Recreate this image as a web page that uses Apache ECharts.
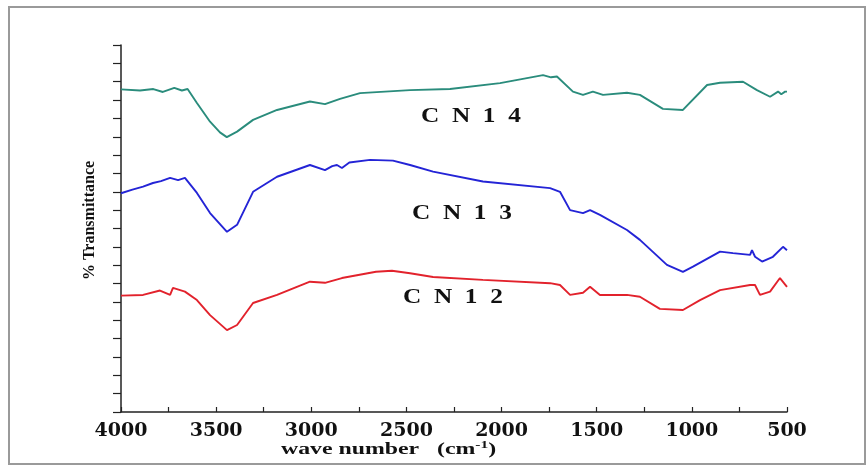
<!DOCTYPE html>
<html>
<head>
<meta charset="utf-8">
<script src="https://cdn.jsdelivr.net/npm/echarts@6/dist/echarts.min.js"></script>
<style>html,body{margin:0;padding:0;background:#fff;}#c{width:867px;height:467px;}</style>
</head>
<body>
<div id="c"></div>
<script>
// wave numbers (cm-1) and % transmittance (arbitrary offset units, 0..100)
const xTicks = [4000, 3500, 3000, 2500, 2000, 1500, 1000, 500];
const seriesNames = ['CN 14', 'CN 13', 'CN 12'];

const cn14 = [
  [4000, 87.9], [3900, 87.6], [3830, 88.0], [3780, 87.2], [3720, 88.3], [3680, 87.6], [3650, 88.0],
  [3601, 84.2], [3532, 79.1], [3480, 76.2], [3444, 74.9], [3390, 76.4], [3306, 79.6], [3180, 82.3],
  [3007, 84.6], [2928, 83.9], [2849, 85.3], [2744, 86.9], [2481, 87.7], [2271, 88.0], [2008, 89.6],
  [1782, 91.8], [1740, 91.2], [1709, 91.4], [1625, 87.3], [1572, 86.4], [1520, 87.3], [1467, 86.4],
  [1341, 87.0], [1273, 86.4], [1152, 82.6], [1047, 82.3], [920, 89.1], [852, 89.7], [731, 90.0],
  [658, 87.7], [589, 85.9], [547, 87.3], [530, 86.6], [510, 87.3], [500, 87.3]
];

const cn13 = [
  [4000, 59.6], [3940, 60.6], [3884, 61.4], [3832, 62.4], [3790, 62.9], [3742, 63.8], [3700, 63.2],
  [3664, 63.8], [3601, 59.7], [3532, 54.2], [3443, 49.1], [3390, 51.0], [3306, 60.0], [3180, 64.1],
  [3007, 67.3], [2928, 65.9], [2890, 67.0], [2865, 67.3], [2839, 66.5], [2800, 68.0], [2691, 68.7],
  [2571, 68.5], [2481, 67.3], [2360, 65.5], [2098, 62.8], [1745, 61.0], [1693, 60.0], [1640, 55.0],
  [1572, 54.2], [1535, 55.0], [1483, 53.7], [1341, 49.6], [1273, 46.9], [1131, 40.1], [1047, 38.2],
  [994, 39.6], [852, 43.7], [784, 43.3], [694, 42.8], [684, 44.1], [668, 42.3], [631, 41.0],
  [574, 42.3], [521, 45.0], [500, 44.1]
];

const cn12 = [
  [4000, 31.7], [3884, 31.9], [3795, 33.1], [3742, 31.9], [3727, 33.8], [3664, 32.8], [3601, 30.5],
  [3532, 26.4], [3443, 22.3], [3390, 23.7], [3306, 29.7], [3180, 31.9], [3007, 35.5], [2928, 35.2],
  [2839, 36.5], [2660, 38.2], [2576, 38.5], [2481, 37.8], [2360, 36.8], [2098, 36.0], [1745, 35.1],
  [1693, 34.6], [1640, 31.9], [1572, 32.5], [1535, 34.1], [1483, 31.9], [1341, 31.9], [1273, 31.4],
  [1168, 28.1], [1047, 27.8], [957, 30.5], [852, 33.2], [694, 34.6], [668, 34.6], [642, 31.9],
  [589, 32.8], [537, 36.5], [500, 34.1]
];

const colors = ['#2a8c7c', '#2424d6', '#e2222c'];
const serif = '"Liberation Serif", "DejaVu Serif", serif';
const wideSerif = '"DejaVu Serif", serif';

function label(text, x, y) {
  return { type: 'text', x: x, y: y, scaleX: 1.15,
    style: { text: text, font: 'bold 22px ' + serif, fill: '#111' } };
}

const chart = echarts.init(document.getElementById('c'));
chart.setOption({
  backgroundColor: '#fff',
  animation: false,
  grid: { left: 121, right: 80, top: 45, bottom: 55 },
  xAxis: {
    type: 'value', min: 500, max: 4000, interval: 500, inverse: true,
    axisLine: { lineStyle: { color: '#222', width: 1.5 } },
    axisTick: { inside: true, length: 5, lineStyle: { color: '#222', width: 1.2 } },
    minorTick: { show: true, splitNumber: 2, length: 5, lineStyle: { color: '#222', width: 1.2 } },
    splitLine: { show: false },
    axisLabel: { fontFamily: wideSerif, fontWeight: 'bold', fontSize: 19, color: '#111', margin: 10,
      formatter: v => String(v) }
  },
  yAxis: {
    type: 'value', min: 0, max: 100, interval: 5,
    name: '% Transmittance', nameLocation: 'middle', nameGap: 23, nameRotate: 90,
    nameTextStyle: { fontFamily: serif, fontWeight: 'bold', fontSize: 16, color: '#111', padding: [0, 0, 0, 16] },
    axisLine: { show: true, lineStyle: { color: '#222', width: 1.5 } },
    axisTick: { show: true, length: 8, lineStyle: { color: '#222', width: 1.2 } },
    axisLabel: { show: false },
    splitLine: { show: false }
  },
  series: [cn14, cn13, cn12].map((d, i) => ({
    name: seriesNames[i], type: 'line', data: d, showSymbol: false, smooth: false,
    lineStyle: { color: colors[i], width: 1.9 }
  })),
  graphic: [
    { type: 'rect', shape: { x: 9, y: 7, width: 856, height: 457 },
      style: { fill: 'none', stroke: '#9a9a9a', lineWidth: 2 }, silent: true },
    label('C  N  1  4', 421, 105),
    label('C  N  1  3', 412, 202),
    label('C  N  1  2', 403, 286),
    { type: 'text', x: 281, y: 440, scaleX: 1.4, style: {
        text: '{a|wave number   (cm}{s|-1}{a|)}',
        rich: {
          a: { font: 'bold 17px ' + serif, fill: '#111', color: '#111' },
          s: { font: 'bold 11px ' + serif, fill: '#111', color: '#111', verticalAlign: 'top', padding: [0, 0, 8, 0] }
        }
    } }
  ]
});
</script>
</body>
</html>
